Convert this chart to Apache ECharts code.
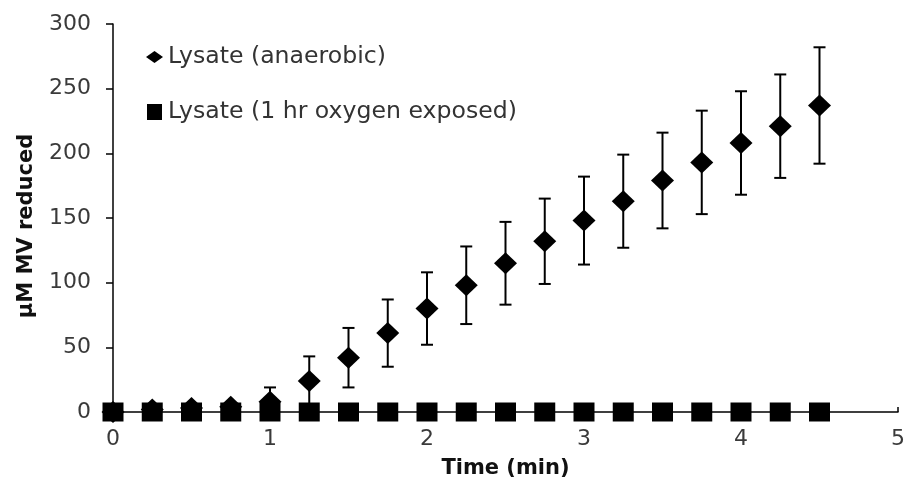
<!DOCTYPE html>
<html>
<head>
<meta charset="utf-8">
<script src="https://cdn.jsdelivr.net/npm/echarts@6/dist/echarts.min.js"></script>
<style>
  html, body { margin: 0; padding: 0; background: #fff; }
  #chart { width: 908px; height: 484px; }
</style>
</head>
<body>
<div id="chart"></div>
<script>
// Sampling times (min)
const times = [0, 0.25, 0.5, 0.75, 1, 1.25, 1.5, 1.75, 2, 2.25, 2.5, 2.75, 3, 3.25, 3.5, 3.75, 4, 4.25, 4.5];
// µM methyl viologen reduced, anaerobic lysate, with error (±)
const anaerobic = [0, 2, 3, 4, 8, 24, 42, 61, 80, 98, 115, 132, 148, 163, 179, 193, 208, 221, 237];
const anaerobicErr = [0, 1, 1, 2, 11, 19, 23, 26, 28, 30, 32, 33, 34, 36, 37, 40, 40, 40, 45];
// µM methyl viologen reduced, lysate after 1 hr oxygen exposure
const oxygen = [0, 0, 0, 0, 0, 0, 0, 0, 0, 0, 0, 0, 0, 0, 0, 0, 0, 0, 0];
// Axis ticks
const xTicks = [0, 1, 2, 3, 4, 5];
const yTicks = [0, 50, 100, 150, 200, 250, 300];

const seriesNames = ['Lysate (anaerobic)', 'Lysate (1 hr oxygen exposed)'];
const FONT = 'DejaVu Sans';

// legend keys: a flat diamond and a near-square block
const diamondIcon = 'path://M0,6 L8.5,0 L17,6 L8.5,12 Z';
const squareIcon = 'path://M0,0 L15,0 L15,16 L0,16 Z';

const anaerobicData = times.map((t, i) => [t, anaerobic[i]]);
const oxygenData = times.map((t, i) => [t, oxygen[i]]);
const errData = times.map((t, i) => [t, anaerobic[i] - anaerobicErr[i], anaerobic[i] + anaerobicErr[i]]);

const chart = echarts.init(document.getElementById('chart'), null, { renderer: 'canvas' });

chart.setOption({
  animation: false,
  backgroundColor: '#ffffff',
  grid: { left: 113, right: 7, top: 24, bottom: 69, containLabel: false },
  legend: {
    data: [
      { name: seriesNames[0], icon: diamondIcon },
      { name: seriesNames[1], icon: squareIcon }
    ],
    orient: 'vertical',
    left: 141,
    top: 40,
    itemWidth: 17,
    itemHeight: 16,
    itemGap: 31,
    symbolKeepAspect: true,
    textStyle: { fontFamily: FONT, fontSize: 23.6, color: '#333' }
  },
  xAxis: {
    type: 'value',
    min: xTicks[0],
    max: xTicks[xTicks.length - 1],
    interval: 1,
    name: 'Time (min)',
    nameLocation: 'middle',
    nameGap: 46,
    nameTextStyle: { fontFamily: FONT, fontSize: 21, fontWeight: 'bold', color: '#111' },
    axisLine: { onZero: false, lineStyle: { color: '#000', width: 1.5 } },
    axisTick: { inside: true, length: 5, lineStyle: { color: '#000', width: 1.5 } },
    axisLabel: { fontFamily: FONT, fontSize: 22, color: '#3a3a3a', margin: 16 },
    splitLine: { show: false }
  },
  yAxis: {
    type: 'value',
    min: yTicks[0],
    max: yTicks[yTicks.length - 1],
    interval: 50,
    name: 'μM MV reduced',
    nameLocation: 'middle',
    nameGap: 76,
    nameTextStyle: { fontFamily: FONT, fontSize: 21, fontWeight: 'bold', color: '#111', padding: [0, 16, 0, 0] },
    axisLine: { show: true, lineStyle: { color: '#000', width: 1.5 } },
    axisTick: { show: true, inside: false, length: 7, lineStyle: { color: '#000', width: 1.5 } },
    axisLabel: { fontFamily: FONT, fontSize: 22, color: '#3a3a3a', margin: 22 },
    splitLine: { show: false }
  },
  series: [
    {
      // error bars for the anaerobic lysate
      type: 'custom',
      name: 'err',
      z: 1,
      data: errData,
      encode: { x: 0, y: [1, 2] },
      renderItem: function (params, api) {
        const x = api.value(0);
        const lo = api.coord([x, api.value(1)]);
        const hi = api.coord([x, api.value(2)]);
        const hw = 6;
        const style = { stroke: '#000', lineWidth: 2 };
        return {
          type: 'group',
          children: [
            { type: 'line', shape: { x1: lo[0], y1: lo[1], x2: hi[0], y2: hi[1] }, style: style },
            { type: 'line', shape: { x1: hi[0] - hw, y1: hi[1], x2: hi[0] + hw, y2: hi[1] }, style: style },
            { type: 'line', shape: { x1: lo[0] - hw, y1: lo[1], x2: lo[0] + hw, y2: lo[1] }, style: style }
          ]
        };
      }
    },
    {
      type: 'scatter',
      name: seriesNames[0],
      z: 2,
      symbol: 'diamond',
      symbolSize: [23, 22],
      itemStyle: { color: '#000', opacity: 1 },
      data: anaerobicData
    },
    {
      type: 'scatter',
      name: seriesNames[1],
      z: 3,
      symbol: 'rect',
      symbolSize: [21, 19],
      itemStyle: { color: '#000', opacity: 1 },
      data: oxygenData
    }
  ]
});
</script>
</body>
</html>
